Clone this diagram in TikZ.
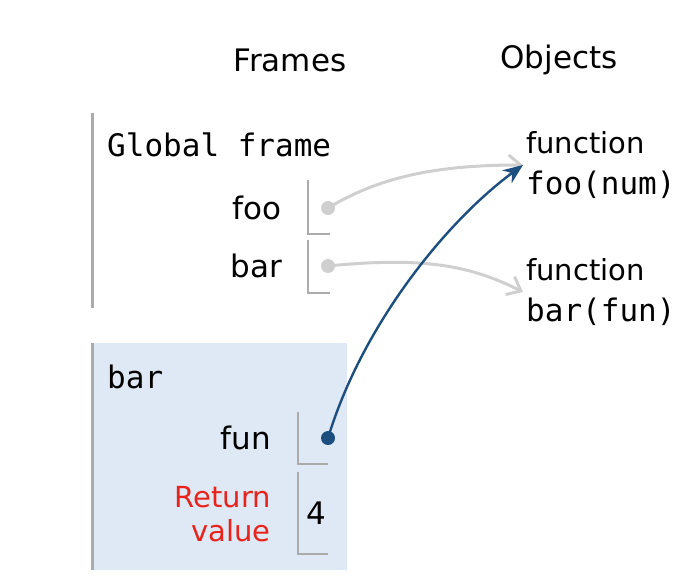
\documentclass[tikz,border=0pt]{standalone}
\usepackage{fontspec}
\setmainfont{DejaVu Sans}
\setmonofont{DejaVu Sans Mono}
\usetikzlibrary{arrows.meta}
\definecolor{framegray}{HTML}{ABABAB}
\definecolor{ptrgray}{HTML}{CFCFCF}
\definecolor{ptrblue}{HTML}{1C4F80}
\definecolor{retred}{HTML}{E8231B}
\definecolor{framefill}{HTML}{DFE8F5}
\begin{document}
\begin{tikzpicture}[x=1pt,y=-1pt,
  head/.style={inner sep=0pt,font=\fontsize{31}{36}\selectfont},
  lbl/.style={inner sep=0pt,font=\fontsize{31}{36}\selectfont},
  code/.style={inner sep=0pt,font=\fontsize{31}{36}\ttfamily},
  obj/.style={inner sep=3pt,align=left,font=\fontsize{29}{41}\selectfont},
  slot/.style={draw=framegray,line width=2pt},
  gdot/.style={circle,fill=ptrgray,inner sep=0pt,minimum size=14pt},
  bdot/.style={circle,fill=ptrblue,inner sep=0pt,minimum size=14pt},
  gptr/.style={draw=ptrgray,line width=3pt,-{Straight Barb[length=12pt,width=20pt,line width=3pt]}},
  bptr/.style={draw=ptrblue,line width=2.4pt,-{Stealth[length=20pt,width=16pt]}}]
\useasboundingbox (0,0) rectangle (698,586);
% headings
\node[head] (frames) at (290,60) {Frames};
\node[head] (objects) at (559,60) {Objects};
% global frame
\draw[framegray,line width=3pt] (92,113) -- (92,308);
\node[code,anchor=west] (gframe) at (107,145) {Global frame};
\node[lbl,anchor=east] (foolbl) at (282,208) {foo};
\node[lbl,anchor=east] (barlbl) at (282,266) {bar};
\draw[slot] (308,180) |- (330,234);
\draw[slot] (308,240) |- (330,293);
\node[gdot] (foodot) at (328,208) {};
\node[gdot] (bardot) at (328,266) {};
% bar frame
\fill[framefill] (92,343) rectangle (347,570);
\draw[framegray,line width=3pt] (92,343) -- (92,570);
\node[code,anchor=west] (bframe) at (107,377) {bar};
\node[lbl,anchor=east] (funlbl) at (271,438) {fun};
\node[lbl,anchor=east,align=right,text=retred,font=\fontsize{29}{34}\selectfont] (retlbl) at (271,514) {Return\\value};
\draw[slot] (298,412) |- (328,464);
\draw[slot] (298,472) |- (328,554);
\node[bdot] (fundot) at (328,438) {};
\node[lbl] (retval) at (316,513) {4};
% objects
\node[obj,anchor=west] (fooobj) at (523,165) {function\\\texttt{\fontsize{31}{41}\selectfont foo(num)}};
\node[obj,anchor=west] (barobj) at (523,292) {function\\\texttt{\fontsize{31}{41}\selectfont bar(fun)}};
% pointers
\draw[gptr] (foodot.center) .. controls +(50,-30) and +(-90,0) .. (fooobj.west);
\draw[gptr] (bardot.center) .. controls +(100,-10) and +(-50,-25) .. (barobj.west);
\draw[bptr] (fundot.center) .. controls +(35,-115) and +(-75,55) .. (fooobj.west);
\end{tikzpicture}
\end{document}
